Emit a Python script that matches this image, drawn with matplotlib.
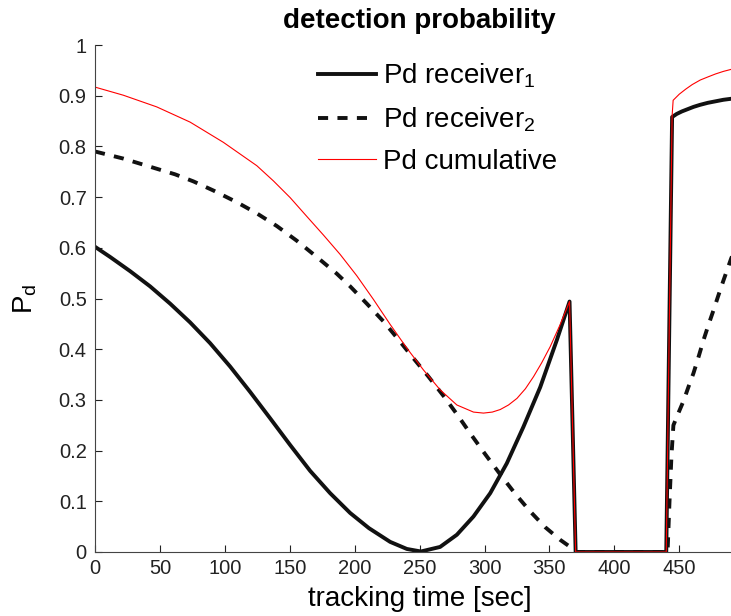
import numpy as np
import matplotlib.pyplot as plt
import matplotlib as mpl

plt.rcParams['font.family'] = ['Liberation Sans', 'DejaVu Sans']
plt.rcParams['mathtext.fontset'] = 'custom'
plt.rcParams['mathtext.rm'] = 'Liberation Sans'
plt.rcParams['mathtext.it'] = 'Liberation Sans:italic'

# tracking time [sec] and detection probabilities
t1 = [0, 11.6, 27, 42.4, 57.8, 73.2, 88.6, 104, 119.4, 134.8, 150.3, 165.7, 181.1,
      196.5, 211, 227.3, 240.2, 251, 265.8, 278.7, 291.5, 304.4, 317.2, 330, 342.9,
      355.7, 365.5, 370.2, 440, 444.5, 448, 452, 456, 461, 466, 472, 478, 484, 490, 500]
pd1 = [0.602, 0.582, 0.554, 0.524, 0.490, 0.453, 0.412, 0.366, 0.316, 0.264, 0.211,
       0.160, 0.116, 0.077, 0.047, 0.020, 0.006, 0.001, 0.010, 0.034, 0.070, 0.116,
       0.175, 0.247, 0.325, 0.418, 0.494, 0.0, 0.0, 0.858, 0.864, 0.869, 0.873, 0.878,
       0.882, 0.886, 0.889, 0.892, 0.894, 0.897]

t2 = [0, 21.8, 44.9, 61.6, 75.8, 91.2, 109.2, 124.6, 140, 155.4, 170.8, 186.2, 196.5,
      209.3, 222.1, 233.7, 245.3, 256.8, 268.4, 278.7, 289, 300.5, 312.1, 323.6, 335.2,
      346.7, 358.3, 366, 370, 441, 442.5, 444, 445.5, 449, 453.3, 457, 461, 465, 468.7,
      472.5, 476.4, 480, 484.1, 490, 500]
pd2 = [0.790, 0.776, 0.758, 0.745, 0.731, 0.713, 0.690, 0.668, 0.643, 0.614, 0.582,
       0.549, 0.524, 0.490, 0.455, 0.419, 0.382, 0.346, 0.308, 0.272, 0.234, 0.193,
       0.153, 0.115, 0.080, 0.049, 0.024, 0.010, 0.0, 0.0, 0.1, 0.19, 0.25, 0.272,
       0.298, 0.325, 0.353, 0.386, 0.418, 0.448, 0.477, 0.505, 0.536, 0.579, 0.64]

tc = [0, 21.8, 47.5, 73.2, 98.9, 124.6, 137.4, 150.3, 163.1, 176, 188.8, 201.6, 214.5,
      227.3, 240.2, 253, 265.8, 278.7, 291.5, 299.2, 306, 312.1, 318.5, 325, 331.5,
      337.8, 344, 350.6, 358, 365.5, 370.2, 440, 444.5, 445.3, 450, 455, 460, 466.2,
      472, 478, 484, 490, 500]
pdc = [0.917, 0.901, 0.878, 0.848, 0.808, 0.762, 0.732, 0.699, 0.662, 0.625, 0.587,
       0.545, 0.498, 0.449, 0.402, 0.359, 0.320, 0.290, 0.276, 0.274, 0.276, 0.281,
       0.290, 0.303, 0.322, 0.346, 0.373, 0.405, 0.447, 0.494, 0.0, 0.0, 0.86, 0.891,
       0.903, 0.913, 0.922, 0.931, 0.937, 0.943, 0.948, 0.952, 0.96]

xticks = [0, 50, 100, 150, 200, 250, 300, 350, 400, 450]
yticks = np.round(np.arange(0, 1.01, 0.1), 1)

fig = plt.figure(figsize=(7.31, 6.16), dpi=100)
ax = fig.add_axes([0.130, 0.1039, 0.888, 0.823])

ax.plot(t1, pd1, color='#111111', lw=2.8, label=r'Pd receiver$_\mathregular{1}$')
ax.plot(t2, pd2, color='#111111', lw=2.8, dashes=(2.6, 2.4),
        label=r'Pd receiver$_\mathregular{2}$')
ax.plot(tc, pdc, color='red', lw=0.8, label='Pd cumulative')

ax.set_xlim(0, 500)
ax.set_ylim(0, 1)
ax.set_xticks(xticks)
ax.set_yticks(yticks)
ax.yaxis.set_major_formatter(mpl.ticker.FormatStrFormatter('%g'))
ax.tick_params(direction='in', length=5, labelsize=14.5, width=0.8, colors='#222222')
ax.tick_params(axis='x', pad=5)
ax.tick_params(axis='y', pad=6)
for s in ['top', 'right']:
    ax.spines[s].set_visible(False)
for s in ['left', 'bottom']:
    ax.spines[s].set_color('#444444')

ax.set_title('detection probability', fontsize=20, fontweight='bold', pad=12)
ax.set_xlabel('tracking time [sec]', fontsize=20, labelpad=6)
ax.set_ylabel(r'P$_\mathregular{d}$', fontsize=20, labelpad=14)

ax.legend(loc='upper left', bbox_to_anchor=(0.322, 0.995), frameon=False,
          fontsize=20, handlelength=2.1, handletextpad=0.25, labelspacing=0.55,
          borderpad=0)

fig.savefig('out.png', dpi=100)
